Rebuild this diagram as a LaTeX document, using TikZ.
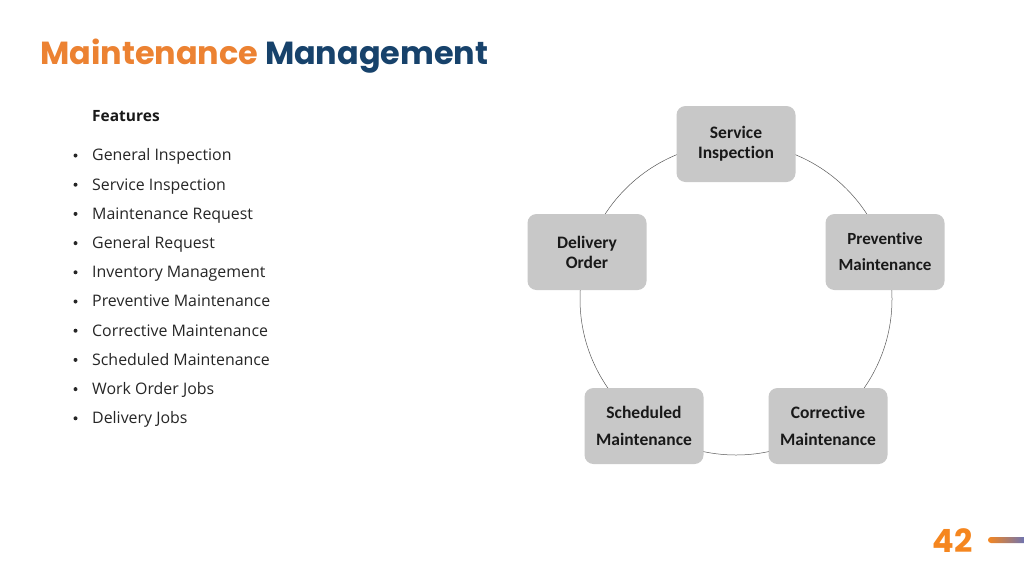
\documentclass[tikz,border=0pt]{standalone}
\usepackage{fontspec}
\setmainfont{Open Sans}
\newfontfamily\titlefont{Poppins}
\newfontfamily\nodefont[Ligatures={NoCommon}]{Carlito}
\definecolor{torange}{HTML}{EC8232}
\definecolor{tnavy}{HTML}{17426B}
\definecolor{pgorange}{HTML}{F5861F}
\definecolor{pgblue}{HTML}{4A6FD8}
\definecolor{boxgray}{HTML}{C8C8C8}
\definecolor{circgray}{HTML}{5A5A5A}
\tikzset{
  cyclebox/.style={draw=none, fill=boxgray, rounded corners=9pt, minimum width=119pt, minimum height=76pt, align=center, inner sep=2pt, font=\nodefont\bfseries\fontsize{17.5}{20}\selectfont, text=black!90},
  bullettext/.style={anchor=base west, inner sep=0pt, font=\fontsize{15.9}{18}\selectfont, text=black!85},
  bulletdot/.style={circle, fill=black!85, inner sep=0pt, minimum size=4pt},
  circline/.style={draw=circgray, line width=0.5pt}
}
\begin{document}
\begin{tikzpicture}[x=1pt,y=-1pt]
\useasboundingbox[fill=white] (0,0) rectangle (1024,576);
% title
\node[anchor=base west, inner sep=0pt, font=\titlefont\bfseries\fontsize{31.9}{36}\selectfont] (title) at (40,64) {\textcolor{torange}{Maintenance} \textcolor{tnavy}{Management}};
% features
\node[anchor=base west, inner sep=0pt, font=\bfseries\fontsize{15.5}{18}\selectfont, text=black!90] (feat) at (92,121.5) {Features};
\foreach \t [count=\i] in {General Inspection, Service Inspection, Maintenance Request, General Request, Inventory Management, Preventive Maintenance, Corrective Maintenance, Scheduled Maintenance, Work Order Jobs, Delivery Jobs}{
  \pgfmathsetmacro{\yy}{155+(\i-1)*29.2}
  \node[bulletdot] (b\i) at (75.5,\yy+0.5) {};
  \node[bullettext] (l\i) at (92,\yy+5.8) {\t};
}
% cycle
\coordinate (cc) at (736,299);
\draw[circline] (cc) circle[radius=156];
\node[cyclebox] (si) at (736,144) {Service\\Inspection};
\node[cyclebox] (do) at (587,252) {Delivery\\Order};
\node[cyclebox, font=\nodefont\bfseries\fontsize{17}{20}\selectfont] (pm) at (885,252) {Preventive\\[6pt]Maintenance};
\node[cyclebox] (sm) at (644,426) {Scheduled\\[7pt]Maintenance};
\node[cyclebox] (cm) at (828,426) {Corrective\\[7pt]Maintenance};
% page number
\node[anchor=base east, inner sep=0pt, font=\titlefont\bfseries\fontsize{32}{34}\selectfont, text=pgorange] (pg) at (973,552) {42};
\shade[left color=pgorange, right color=pgblue, rounded corners=3pt] (988,537) rectangle (1034,543);
\end{tikzpicture}
\end{document}
